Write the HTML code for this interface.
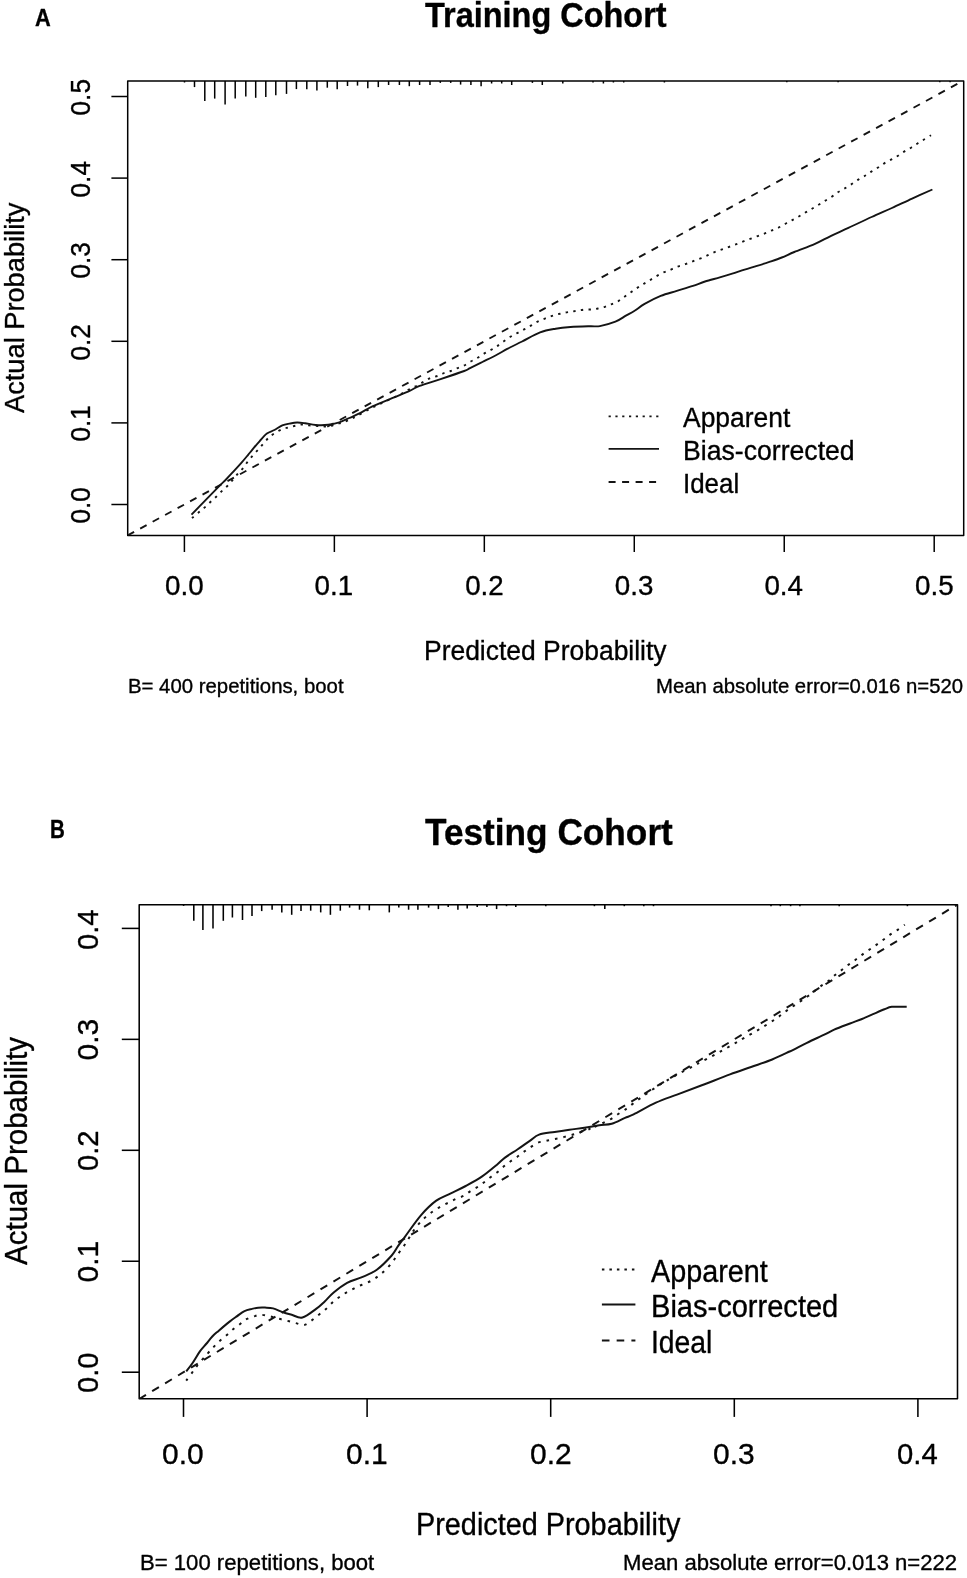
<!DOCTYPE html>
<html><head><meta charset="utf-8"><style>
html,body{margin:0;padding:0;background:#fff;}
body{width:967px;height:1578px;overflow:hidden;}
svg{display:block;will-change:transform;}
text{font-family:"Liberation Sans",sans-serif;fill:#000;stroke:#000;stroke-width:0.35px;stroke-linejoin:round;}
</style></head><body>
<svg width="967" height="1578" viewBox="0 0 967 1578">
<defs></defs>
<rect width="967" height="1578" fill="#fff"/>
<g>
<g stroke="#000" stroke-linejoin="round" stroke-linecap="butt" fill="none">
<g stroke-width="1.50">
<rect x="127.70" y="81.00" width="836.00" height="454.60"/>
<line x1="184.40" y1="535.60" x2="184.40" y2="552.00"/>
<line x1="334.36" y1="535.60" x2="334.36" y2="552.00"/>
<line x1="484.32" y1="535.60" x2="484.32" y2="552.00"/>
<line x1="634.28" y1="535.60" x2="634.28" y2="552.00"/>
<line x1="784.24" y1="535.60" x2="784.24" y2="552.00"/>
<line x1="934.20" y1="535.60" x2="934.20" y2="552.00"/>
<line x1="127.70" y1="504.50" x2="111.40" y2="504.50"/>
<line x1="127.70" y1="422.90" x2="111.40" y2="422.90"/>
<line x1="127.70" y1="341.30" x2="111.40" y2="341.30"/>
<line x1="127.70" y1="259.70" x2="111.40" y2="259.70"/>
<line x1="127.70" y1="178.10" x2="111.40" y2="178.10"/>
<line x1="127.70" y1="96.50" x2="111.40" y2="96.50"/>
<line x1="184.50" y1="81.00" x2="184.50" y2="82.50"/>
<line x1="194.50" y1="81.00" x2="194.50" y2="87.10"/>
<line x1="204.80" y1="81.00" x2="204.80" y2="101.10"/>
<line x1="214.70" y1="81.00" x2="214.70" y2="98.60"/>
<line x1="225.10" y1="81.00" x2="225.10" y2="104.60"/>
<line x1="235.20" y1="81.00" x2="235.20" y2="98.60"/>
<line x1="245.80" y1="81.00" x2="245.80" y2="96.40"/>
<line x1="255.70" y1="81.00" x2="255.70" y2="97.80"/>
<line x1="265.80" y1="81.00" x2="265.80" y2="97.00"/>
<line x1="275.80" y1="81.00" x2="275.80" y2="95.30"/>
<line x1="286.50" y1="81.00" x2="286.50" y2="93.90"/>
<line x1="296.40" y1="81.00" x2="296.40" y2="89.10"/>
<line x1="306.80" y1="81.00" x2="306.80" y2="89.30"/>
<line x1="316.90" y1="81.00" x2="316.90" y2="90.40"/>
<line x1="327.30" y1="81.00" x2="327.30" y2="87.70"/>
<line x1="337.20" y1="81.00" x2="337.20" y2="89.30"/>
<line x1="347.50" y1="81.00" x2="347.50" y2="86.00"/>
<line x1="357.50" y1="81.00" x2="357.50" y2="85.60"/>
<line x1="367.80" y1="81.00" x2="367.80" y2="88.30"/>
<line x1="378.30" y1="81.00" x2="378.30" y2="87.10"/>
<line x1="388.60" y1="81.00" x2="388.60" y2="85.00"/>
<line x1="399.40" y1="81.00" x2="399.40" y2="85.00"/>
<line x1="409.30" y1="81.00" x2="409.30" y2="86.20"/>
<line x1="419.60" y1="81.00" x2="419.60" y2="85.00"/>
<line x1="430.00" y1="81.00" x2="430.00" y2="85.00"/>
<line x1="440.30" y1="81.00" x2="440.30" y2="82.90"/>
<line x1="450.70" y1="81.00" x2="450.70" y2="82.90"/>
<line x1="460.60" y1="81.00" x2="460.60" y2="84.60"/>
<line x1="470.90" y1="81.00" x2="470.90" y2="85.00"/>
<line x1="481.10" y1="81.00" x2="481.10" y2="86.20"/>
<line x1="491.60" y1="81.00" x2="491.60" y2="83.50"/>
<line x1="501.70" y1="81.00" x2="501.70" y2="83.50"/>
<line x1="511.70" y1="81.00" x2="511.70" y2="85.00"/>
<line x1="532.40" y1="81.00" x2="532.40" y2="82.90"/>
<line x1="542.30" y1="81.00" x2="542.30" y2="85.00"/>
<line x1="562.80" y1="81.00" x2="562.80" y2="83.50"/>
<line x1="593.00" y1="81.00" x2="593.00" y2="82.50"/>
<line x1="603.40" y1="81.00" x2="603.40" y2="83.50"/>
<line x1="613.40" y1="81.00" x2="613.40" y2="82.50"/>
<line x1="623.70" y1="81.00" x2="623.70" y2="82.50"/>
<line x1="664.40" y1="81.00" x2="664.40" y2="82.50"/>
<line x1="786.80" y1="81.00" x2="786.80" y2="82.30"/>
<line x1="838.10" y1="81.00" x2="838.10" y2="82.30"/>
<line x1="939.80" y1="81.00" x2="939.80" y2="82.30"/>
<line x1="950.10" y1="81.00" x2="950.10" y2="82.30"/>
</g>
<g stroke-width="1.90" stroke="#141414">
<clipPath id="ca"><rect x="127.70" y="81.00" width="836.00" height="454.60"/></clipPath>
<line x1="127.70" y1="535.35" x2="963.70" y2="80.45" stroke-dasharray="7.3,6.9" stroke-dashoffset="0.00" clip-path="url(#ca)"/>
<path d="M191.50,514.60 C192.75,513.32 194.50,511.52 199.00,506.90 C203.50,502.28 214.00,491.47 218.50,486.90 C223.00,482.33 223.52,482.05 226.00,479.50 C228.48,476.95 230.92,474.28 233.40,471.60 C235.88,468.92 238.42,466.23 240.90,463.40 C243.38,460.57 246.45,456.82 248.30,454.60 C250.15,452.38 250.13,452.32 252.00,450.10 C253.87,447.88 257.02,444.05 259.50,441.30 C261.98,438.55 264.42,435.48 266.90,433.60 C269.38,431.72 271.83,431.37 274.40,430.00 C276.97,428.63 279.78,426.47 282.30,425.40 C284.82,424.33 287.03,424.08 289.50,423.60 C291.97,423.12 294.52,422.57 297.10,422.50 C299.68,422.43 301.88,422.78 305.00,423.20 C308.12,423.62 311.93,424.73 315.80,425.00 C319.67,425.27 324.28,425.25 328.20,424.80 C332.12,424.35 335.78,423.43 339.30,422.30 C342.82,421.17 345.85,419.52 349.30,418.00 C352.75,416.48 356.15,415.13 360.00,413.20 C363.85,411.27 366.62,409.08 372.40,406.40 C378.18,403.72 388.50,399.68 394.70,397.10 C400.90,394.52 405.45,392.77 409.60,390.90 C413.75,389.03 414.43,387.87 419.60,385.90 C424.77,383.93 433.17,381.58 440.60,379.10 C448.03,376.62 459.30,372.82 464.20,371.00 C469.10,369.18 466.97,369.70 470.00,368.20 C473.03,366.70 477.85,364.28 482.40,362.00 C486.95,359.72 493.17,356.68 497.30,354.50 C501.43,352.32 503.07,351.07 507.20,348.90 C511.33,346.73 516.62,344.25 522.10,341.50 C527.58,338.75 534.52,334.53 540.10,332.40 C545.68,330.27 550.53,329.60 555.60,328.70 C560.67,327.80 564.77,327.42 570.50,327.00 C576.23,326.58 585.10,326.35 590.00,326.20 C594.90,326.05 595.67,326.85 599.90,326.10 C604.13,325.35 611.07,323.43 615.40,321.70 C619.73,319.97 622.70,317.52 625.90,315.70 C629.10,313.88 631.48,312.77 634.60,310.80 C637.72,308.83 640.25,306.38 644.60,303.90 C648.95,301.42 655.33,298.07 660.70,295.90 C666.07,293.73 671.43,292.57 676.80,290.90 C682.17,289.23 688.20,287.47 692.90,285.90 C697.60,284.33 700.52,282.92 705.00,281.50 C709.48,280.08 715.27,278.70 719.80,277.40 C724.33,276.10 728.07,275.00 732.20,273.70 C736.33,272.40 740.47,270.90 744.60,269.60 C748.73,268.30 752.87,267.18 757.00,265.90 C761.13,264.62 765.27,263.30 769.40,261.90 C773.53,260.50 777.65,259.15 781.80,257.50 C785.95,255.85 788.77,254.27 794.30,252.00 C799.83,249.73 808.87,246.60 815.00,243.90 C821.13,241.20 825.53,238.47 831.10,235.80 C836.67,233.13 841.65,231.03 848.40,227.90 C855.15,224.77 864.35,220.32 871.60,217.00 C878.85,213.68 885.15,211.07 891.90,208.00 C898.65,204.93 905.35,201.68 912.10,198.60 C918.85,195.52 929.02,191.02 932.40,189.50"/>
<path d="M192.00,518.10 C193.00,517.25 195.98,514.70 198.00,513.00 C200.02,511.30 202.08,509.68 204.10,507.90 C206.12,506.12 208.08,504.17 210.10,502.30 C212.12,500.43 214.25,498.57 216.20,496.70 C218.15,494.83 219.93,492.88 221.80,491.10 C223.67,489.32 225.53,487.93 227.40,486.00 C229.27,484.07 231.15,481.67 233.00,479.50 C234.85,477.33 236.72,475.02 238.50,473.00 C240.28,470.98 242.07,469.43 243.70,467.40 C245.33,465.37 246.68,462.90 248.30,460.80 C249.92,458.70 251.68,456.73 253.40,454.80 C255.12,452.87 256.88,451.13 258.60,449.20 C260.32,447.27 262.00,445.13 263.70,443.20 C265.40,441.27 267.02,439.23 268.80,437.60 C270.58,435.97 272.15,434.82 274.40,433.40 C276.65,431.98 279.95,430.08 282.30,429.10 C284.65,428.12 286.33,428.05 288.50,427.50 C290.67,426.95 293.03,426.30 295.30,425.80 C297.57,425.30 299.83,424.57 302.10,424.50 C304.37,424.43 306.62,425.18 308.90,425.40 C311.18,425.62 313.52,425.65 315.80,425.80 C318.08,425.95 320.43,426.17 322.60,426.30 C324.77,426.43 326.63,426.95 328.80,426.60 C330.97,426.25 333.33,424.88 335.60,424.20 C337.87,423.52 340.12,423.23 342.40,422.50 C344.68,421.77 346.92,420.87 349.30,419.80 C351.68,418.73 353.25,417.93 356.70,416.10 C360.15,414.27 365.62,411.07 370.00,408.80 C374.38,406.53 378.67,404.55 383.00,402.50 C387.33,400.45 392.60,398.13 396.00,396.50 C399.40,394.87 400.92,394.05 403.40,392.70 C405.88,391.35 408.52,389.63 410.90,388.40 C413.28,387.17 415.53,386.43 417.70,385.30 C419.87,384.17 421.73,382.85 423.90,381.60 C426.07,380.35 428.43,378.73 430.70,377.80 C432.97,376.87 435.22,376.82 437.50,376.00 C439.78,375.18 442.22,373.73 444.40,372.90 C446.58,372.07 448.53,371.77 450.60,371.00 C452.67,370.23 454.63,369.17 456.80,368.30 C458.97,367.43 461.33,366.90 463.60,365.80 C465.87,364.70 468.13,363.00 470.40,361.70 C472.67,360.40 475.00,359.30 477.20,358.00 C479.40,356.70 481.38,355.20 483.60,353.90 C485.82,352.60 488.32,351.43 490.50,350.20 C492.68,348.97 494.53,347.95 496.70,346.50 C498.87,345.05 501.13,343.17 503.50,341.50 C505.87,339.83 508.52,337.95 510.90,336.50 C513.28,335.05 515.52,334.03 517.80,332.80 C520.08,331.57 522.43,330.28 524.60,329.10 C526.77,327.92 528.63,326.95 530.80,325.70 C532.97,324.45 535.33,322.75 537.60,321.60 C539.87,320.45 542.12,319.72 544.40,318.80 C546.68,317.88 549.02,316.87 551.30,316.10 C553.58,315.33 555.83,314.78 558.10,314.20 C560.37,313.62 562.73,313.02 564.90,312.60 C567.07,312.18 569.03,312.00 571.10,311.70 C573.17,311.40 575.13,311.15 577.30,310.80 C579.47,310.45 581.78,309.82 584.10,309.60 C586.42,309.38 588.88,309.68 591.20,309.50 C593.52,309.32 595.72,308.95 598.00,308.50 C600.28,308.05 602.72,307.50 604.90,306.80 C607.08,306.10 609.03,305.13 611.10,304.30 C613.17,303.47 615.23,302.95 617.30,301.80 C619.37,300.65 621.43,298.85 623.50,297.40 C625.57,295.95 627.63,294.53 629.70,293.10 C631.77,291.67 633.83,290.20 635.90,288.80 C637.97,287.40 640.03,285.97 642.10,284.70 C644.17,283.43 646.13,282.48 648.30,281.20 C650.47,279.92 652.73,278.38 655.10,277.00 C657.47,275.62 660.12,274.02 662.50,272.90 C664.88,271.78 667.12,271.27 669.40,270.30 C671.68,269.33 673.93,268.00 676.20,267.10 C678.47,266.20 680.73,265.65 683.00,264.90 C685.27,264.15 687.60,263.42 689.80,262.60 C692.00,261.78 693.98,260.85 696.20,260.00 C698.42,259.15 700.82,258.47 703.10,257.50 C705.38,256.53 707.63,255.23 709.90,254.20 C712.17,253.17 714.43,252.18 716.70,251.30 C718.97,250.42 721.22,249.72 723.50,248.90 C725.78,248.08 728.12,247.23 730.40,246.40 C732.68,245.57 734.93,244.77 737.20,243.90 C739.47,243.03 741.73,242.08 744.00,241.20 C746.27,240.32 748.52,239.45 750.80,238.60 C753.08,237.75 755.42,236.93 757.70,236.10 C759.98,235.27 762.23,234.52 764.50,233.60 C766.77,232.68 769.03,231.57 771.30,230.60 C773.57,229.63 775.82,228.90 778.10,227.80 C780.38,226.70 782.72,225.25 785.00,224.00 C787.28,222.75 789.63,221.47 791.80,220.30 C793.97,219.13 795.80,218.27 798.00,217.00 C800.20,215.73 802.87,213.95 805.00,212.70 C807.13,211.45 808.63,210.77 810.80,209.50 C812.97,208.23 815.72,206.50 818.00,205.10 C820.28,203.70 822.20,202.50 824.50,201.10 C826.80,199.70 829.62,198.15 831.80,196.70 C833.98,195.25 835.55,193.72 837.60,192.40 C839.65,191.08 841.82,190.13 844.10,188.80 C846.38,187.47 848.88,185.97 851.30,184.40 C853.72,182.83 856.18,180.92 858.60,179.40 C861.02,177.88 863.63,176.63 865.80,175.30 C867.97,173.97 869.55,172.70 871.60,171.40 C873.65,170.10 875.93,168.88 878.10,167.50 C880.27,166.12 882.30,164.50 884.60,163.10 C886.90,161.70 889.60,160.37 891.90,159.10 C894.20,157.83 896.23,156.83 898.40,155.50 C900.57,154.17 902.73,152.43 904.90,151.10 C907.07,149.77 909.23,148.82 911.40,147.50 C913.57,146.18 915.73,144.57 917.90,143.20 C920.07,141.83 922.22,140.63 924.40,139.30 C926.58,137.97 929.90,135.88 931.00,135.20" stroke-dasharray="2.4,5.3"/>
<line x1="608.60" y1="416.40" x2="659.00" y2="416.40" stroke-dasharray="2.2,4.6"/>
<line x1="608.60" y1="448.85" x2="659.00" y2="448.85"/>
<line x1="608.60" y1="482.00" x2="659.00" y2="482.00" stroke-dasharray="7.0,6.5"/>
</g>
<g stroke-width="1.55">
<rect x="139.20" y="904.80" width="818.30" height="494.00"/>
<line x1="183.50" y1="1398.80" x2="183.50" y2="1416.90"/>
<line x1="367.10" y1="1398.80" x2="367.10" y2="1416.90"/>
<line x1="550.70" y1="1398.80" x2="550.70" y2="1416.90"/>
<line x1="734.30" y1="1398.80" x2="734.30" y2="1416.90"/>
<line x1="917.90" y1="1398.80" x2="917.90" y2="1416.90"/>
<line x1="139.20" y1="1372.20" x2="121.80" y2="1372.20"/>
<line x1="139.20" y1="1261.25" x2="121.80" y2="1261.25"/>
<line x1="139.20" y1="1150.30" x2="121.80" y2="1150.30"/>
<line x1="139.20" y1="1039.35" x2="121.80" y2="1039.35"/>
<line x1="139.20" y1="928.40" x2="121.80" y2="928.40"/>
<line x1="183.60" y1="904.80" x2="183.60" y2="905.90"/>
<line x1="193.80" y1="904.80" x2="193.80" y2="920.80"/>
<line x1="202.90" y1="904.80" x2="202.90" y2="929.90"/>
<line x1="213.00" y1="904.80" x2="213.00" y2="928.60"/>
<line x1="223.30" y1="904.80" x2="223.30" y2="920.80"/>
<line x1="232.40" y1="904.80" x2="232.40" y2="917.50"/>
<line x1="242.50" y1="904.80" x2="242.50" y2="920.00"/>
<line x1="252.00" y1="904.80" x2="252.00" y2="915.90"/>
<line x1="261.70" y1="904.80" x2="261.70" y2="911.10"/>
<line x1="272.10" y1="904.80" x2="272.10" y2="909.70"/>
<line x1="281.80" y1="904.80" x2="281.80" y2="912.40"/>
<line x1="291.70" y1="904.80" x2="291.70" y2="914.80"/>
<line x1="301.00" y1="904.80" x2="301.00" y2="911.10"/>
<line x1="310.70" y1="904.80" x2="310.70" y2="910.70"/>
<line x1="320.70" y1="904.80" x2="320.70" y2="912.40"/>
<line x1="330.40" y1="904.80" x2="330.40" y2="914.80"/>
<line x1="340.30" y1="904.80" x2="340.30" y2="910.70"/>
<line x1="349.60" y1="904.80" x2="349.60" y2="907.60"/>
<line x1="359.50" y1="904.80" x2="359.50" y2="909.70"/>
<line x1="369.30" y1="904.80" x2="369.30" y2="910.30"/>
<line x1="389.30" y1="904.80" x2="389.30" y2="912.40"/>
<line x1="398.80" y1="904.80" x2="398.80" y2="907.60"/>
<line x1="408.60" y1="904.80" x2="408.60" y2="909.70"/>
<line x1="417.90" y1="904.80" x2="417.90" y2="909.70"/>
<line x1="428.60" y1="904.80" x2="428.60" y2="907.60"/>
<line x1="438.40" y1="904.80" x2="438.40" y2="909.10"/>
<line x1="448.20" y1="904.80" x2="448.20" y2="907.00"/>
<line x1="457.90" y1="904.80" x2="457.90" y2="909.70"/>
<line x1="467.20" y1="904.80" x2="467.20" y2="908.60"/>
<line x1="477.20" y1="904.80" x2="477.20" y2="907.00"/>
<line x1="486.90" y1="904.80" x2="486.90" y2="907.00"/>
<line x1="496.60" y1="904.80" x2="496.60" y2="909.10"/>
<line x1="506.50" y1="904.80" x2="506.50" y2="906.20"/>
<line x1="515.80" y1="904.80" x2="515.80" y2="907.00"/>
<line x1="545.80" y1="904.80" x2="545.80" y2="906.20"/>
<line x1="594.40" y1="904.80" x2="594.40" y2="906.20"/>
<line x1="604.80" y1="904.80" x2="604.80" y2="909.10"/>
<line x1="624.30" y1="904.80" x2="624.30" y2="906.20"/>
<line x1="643.80" y1="904.80" x2="643.80" y2="906.20"/>
<line x1="653.50" y1="904.80" x2="653.50" y2="906.20"/>
<line x1="771.00" y1="904.80" x2="771.00" y2="906.20"/>
<line x1="780.30" y1="904.80" x2="780.30" y2="906.20"/>
<line x1="790.60" y1="904.80" x2="790.60" y2="906.20"/>
<line x1="799.90" y1="904.80" x2="799.90" y2="906.20"/>
<line x1="839.20" y1="904.80" x2="839.20" y2="906.20"/>
<line x1="907.40" y1="904.80" x2="907.40" y2="906.20"/>
<line x1="955.80" y1="904.80" x2="955.80" y2="906.60"/>
</g>
<g stroke-width="2.00" stroke="#141414">
<clipPath id="cb"><rect x="139.20" y="904.80" width="818.30" height="494.00"/></clipPath>
<line x1="139.20" y1="1398.97" x2="957.50" y2="904.47" stroke-dasharray="7.9,7.23" stroke-dashoffset="0.00" clip-path="url(#cb)"/>
<path d="M186.20,1371.30 C187.23,1369.95 190.12,1366.52 192.40,1363.20 C194.68,1359.88 197.62,1354.60 199.90,1351.40 C202.18,1348.20 204.03,1346.48 206.10,1344.00 C208.17,1341.52 210.23,1338.68 212.30,1336.50 C214.37,1334.32 215.62,1333.38 218.50,1330.90 C221.38,1328.42 226.50,1324.07 229.60,1321.60 C232.70,1319.13 234.62,1317.85 237.10,1316.10 C239.58,1314.35 242.02,1312.30 244.50,1311.10 C246.98,1309.90 249.72,1309.47 252.00,1308.90 C254.28,1308.33 256.03,1307.92 258.20,1307.70 C260.37,1307.48 262.52,1307.48 265.00,1307.60 C267.48,1307.72 270.10,1307.62 273.10,1308.40 C276.10,1309.18 279.90,1311.23 283.00,1312.30 C286.10,1313.37 288.47,1313.93 291.70,1314.80 C294.93,1315.67 298.33,1318.48 302.40,1317.50 C306.47,1316.52 312.38,1311.58 316.10,1308.90 C319.82,1306.22 321.82,1304.10 324.70,1301.40 C327.58,1298.70 329.67,1295.80 333.40,1292.70 C337.13,1289.60 342.33,1285.38 347.10,1282.80 C351.87,1280.22 357.05,1279.37 362.00,1277.20 C366.95,1275.03 371.85,1273.42 376.80,1269.80 C381.75,1266.18 388.17,1259.43 391.70,1255.50 C395.23,1251.57 395.80,1249.32 398.00,1246.20 C400.20,1243.08 401.05,1241.98 404.90,1236.80 C408.75,1231.62 415.93,1221.08 421.10,1215.10 C426.27,1209.12 430.95,1204.52 435.90,1200.90 C440.85,1197.28 445.83,1195.88 450.80,1193.40 C455.77,1190.92 460.53,1188.78 465.70,1186.00 C470.87,1183.22 476.63,1180.22 481.80,1176.70 C486.97,1173.18 492.83,1168.08 496.70,1164.90 C500.57,1161.72 501.55,1160.17 505.00,1157.60 C508.45,1155.03 513.27,1152.30 517.40,1149.50 C521.53,1146.70 526.18,1143.28 529.80,1140.80 C533.42,1138.32 534.97,1136.08 539.10,1134.60 C543.23,1133.12 549.53,1132.72 554.60,1131.90 C559.67,1131.08 564.53,1130.38 569.50,1129.70 C574.47,1129.02 579.43,1128.53 584.40,1127.80 C589.37,1127.07 594.75,1125.97 599.30,1125.30 C603.85,1124.63 607.42,1125.03 611.70,1123.80 C615.98,1122.57 621.35,1119.47 625.00,1117.90 C628.65,1116.33 628.45,1116.93 633.60,1114.40 C638.75,1111.87 648.67,1106.00 655.90,1102.70 C663.13,1099.40 669.35,1097.50 677.00,1094.60 C684.65,1091.70 692.97,1088.67 701.80,1085.30 C710.63,1081.93 721.78,1077.45 730.00,1074.40 C738.22,1071.35 744.07,1069.48 751.10,1067.00 C758.13,1064.52 765.78,1062.08 772.20,1059.50 C778.62,1056.92 783.82,1054.28 789.60,1051.50 C795.38,1048.72 801.12,1045.60 806.90,1042.80 C812.68,1040.00 819.75,1036.88 824.30,1034.70 C828.85,1032.52 829.92,1031.57 834.20,1029.70 C838.48,1027.83 845.37,1025.28 850.00,1023.50 C854.63,1021.72 858.17,1020.55 862.00,1019.00 C865.83,1017.45 869.27,1015.82 873.00,1014.20 C876.73,1012.58 881.27,1010.53 884.40,1009.30 C887.53,1008.07 888.08,1007.22 891.80,1006.80 C895.52,1006.38 904.22,1006.80 906.70,1006.80"/>
<path d="M186.20,1380.60 C187.13,1379.35 190.05,1375.48 191.80,1373.10 C193.55,1370.72 194.12,1369.50 196.70,1366.30 C199.28,1363.10 204.50,1357.10 207.30,1353.90 C210.10,1350.70 211.43,1349.27 213.50,1347.10 C215.57,1344.93 217.53,1342.87 219.70,1340.90 C221.87,1338.93 224.33,1337.20 226.50,1335.30 C228.67,1333.40 230.52,1331.30 232.70,1329.50 C234.88,1327.70 237.42,1326.17 239.60,1324.50 C241.78,1322.83 243.53,1320.80 245.80,1319.50 C248.07,1318.20 250.83,1317.48 253.20,1316.70 C255.57,1315.92 257.62,1314.95 260.00,1314.80 C262.38,1314.65 265.12,1315.35 267.50,1315.80 C269.88,1316.25 271.93,1316.88 274.30,1317.50 C276.67,1318.12 279.22,1318.87 281.70,1319.50 C284.18,1320.13 286.68,1320.65 289.20,1321.30 C291.72,1321.95 294.28,1322.78 296.80,1323.40 C299.32,1324.02 301.82,1325.50 304.30,1325.00 C306.78,1324.50 309.22,1322.17 311.70,1320.40 C314.18,1318.63 316.82,1316.32 319.20,1314.40 C321.58,1312.48 323.83,1310.85 326.00,1308.90 C328.17,1306.95 330.13,1304.57 332.20,1302.70 C334.27,1300.83 336.33,1299.22 338.40,1297.70 C340.47,1296.18 342.43,1294.90 344.60,1293.60 C346.77,1292.30 349.13,1291.13 351.40,1289.90 C353.67,1288.67 355.82,1287.28 358.20,1286.20 C360.58,1285.12 363.22,1284.48 365.70,1283.40 C368.18,1282.32 370.72,1281.15 373.10,1279.70 C375.48,1278.25 377.82,1276.45 380.00,1274.70 C382.18,1272.95 384.13,1271.30 386.20,1269.20 C388.27,1267.10 390.55,1264.48 392.40,1262.10 C394.25,1259.72 395.55,1257.35 397.30,1254.90 C399.05,1252.45 401.22,1249.78 402.90,1247.40 C404.58,1245.02 405.62,1243.40 407.40,1240.60 C409.18,1237.80 411.32,1233.82 413.60,1230.60 C415.88,1227.38 418.72,1223.88 421.10,1221.30 C423.48,1218.72 425.63,1216.95 427.90,1215.10 C430.17,1213.25 432.33,1211.75 434.70,1210.20 C437.07,1208.65 439.62,1207.15 442.10,1205.80 C444.58,1204.45 447.22,1203.30 449.60,1202.10 C451.98,1200.90 454.02,1199.67 456.40,1198.60 C458.78,1197.53 461.52,1196.98 463.90,1195.70 C466.28,1194.42 468.33,1192.42 470.70,1190.90 C473.07,1189.38 475.72,1188.15 478.10,1186.60 C480.48,1185.05 482.82,1183.25 485.00,1181.60 C487.18,1179.95 489.03,1178.35 491.20,1176.70 C493.37,1175.05 495.83,1173.47 498.00,1171.70 C500.17,1169.93 502.10,1167.83 504.20,1166.10 C506.30,1164.37 508.40,1162.87 510.60,1161.30 C512.80,1159.73 515.23,1158.25 517.40,1156.70 C519.57,1155.15 521.43,1153.57 523.60,1152.00 C525.77,1150.43 528.02,1148.85 530.40,1147.30 C532.78,1145.75 535.42,1143.73 537.90,1142.70 C540.38,1141.67 542.82,1141.67 545.30,1141.10 C547.78,1140.53 550.32,1139.80 552.80,1139.30 C555.28,1138.80 557.72,1138.67 560.20,1138.10 C562.68,1137.53 565.22,1136.58 567.70,1135.90 C570.18,1135.22 572.63,1134.78 575.10,1134.00 C577.57,1133.22 580.12,1132.03 582.50,1131.20 C584.88,1130.37 588.25,1129.37 589.40,1129.00 C590.55,1128.63 588.17,1129.52 589.40,1129.01 C590.63,1128.50 594.32,1127.06 596.80,1125.94 C599.28,1124.82 601.82,1123.54 604.30,1122.31 C606.78,1121.08 609.25,1120.00 611.70,1118.54 C614.15,1117.08 616.52,1115.18 619.00,1113.53 C621.48,1111.88 624.32,1110.24 626.60,1108.63 C628.88,1107.02 630.47,1105.57 632.70,1103.85 C634.93,1102.13 637.62,1100.10 640.00,1098.34 C642.38,1096.58 644.50,1095.05 647.00,1093.31 C649.50,1091.57 651.83,1089.93 655.00,1087.87 C658.17,1085.80 661.83,1083.39 666.00,1080.92 C670.17,1078.45 675.37,1075.58 680.00,1073.06 C684.63,1070.54 690.30,1067.67 693.80,1065.82 C697.30,1063.97 697.97,1063.59 701.00,1061.97 C704.03,1060.36 708.33,1058.10 712.00,1056.13 C715.67,1054.17 719.33,1052.23 723.00,1050.18 C726.67,1048.13 730.33,1045.96 734.00,1043.83 C737.67,1041.70 740.67,1039.88 745.00,1037.38 C749.33,1034.88 754.83,1031.94 760.00,1028.82 C765.17,1025.70 771.33,1021.84 776.00,1018.65 C780.67,1015.46 784.00,1012.53 788.00,1009.70 C792.00,1006.87 796.65,1003.92 800.00,1001.65 C803.35,999.38 805.60,997.86 808.10,996.05 C810.60,994.24 812.83,992.47 815.00,990.78 C817.17,989.09 818.95,987.46 821.10,985.90 C823.25,984.34 825.73,983.08 827.90,981.40 C830.07,979.72 832.03,977.52 834.10,975.80 C836.17,974.08 838.23,972.72 840.30,971.10 C842.37,969.48 844.43,967.63 846.50,966.10 C848.57,964.57 850.63,963.38 852.70,961.90 C854.77,960.42 856.83,958.77 858.90,957.20 C860.97,955.63 862.92,954.05 865.10,952.50 C867.28,950.95 869.82,949.40 872.00,947.90 C874.18,946.40 876.03,945.05 878.20,943.50 C880.37,941.95 882.83,940.20 885.00,938.60 C887.17,937.00 889.03,935.40 891.20,933.90 C893.37,932.40 895.73,931.13 898.00,929.60 C900.27,928.07 903.67,925.52 904.80,924.70" stroke-dasharray="2.6,6.0"/>
<line x1="601.90" y1="1269.40" x2="635.40" y2="1269.40" stroke-dasharray="2.5,5.0"/>
<line x1="601.90" y1="1304.60" x2="635.40" y2="1304.60"/>
<line x1="601.90" y1="1340.40" x2="635.40" y2="1340.40" stroke-dasharray="7.6,7.15"/>
</g>
</g>
<g>
<text x="35.00" y="25.90" font-size="24.27" font-weight="bold" textLength="15.75" lengthAdjust="spacingAndGlyphs">A</text>
<text x="425.00" y="26.60" font-size="34.16" font-weight="bold" textLength="241.59" lengthAdjust="spacingAndGlyphs">Training Cohort</text>
<text x="424.00" y="660.20" font-size="28.20" textLength="242.54" lengthAdjust="spacingAndGlyphs">Predicted Probability</text>
<text x="128.00" y="692.60" font-size="20.78" textLength="215.55" lengthAdjust="spacingAndGlyphs">B= 400 repetitions, boot</text>
<text x="656.00" y="692.70" font-size="20.93" textLength="307.05" lengthAdjust="spacingAndGlyphs">Mean absolute error=0.016 n=520</text>
<text x="683.00" y="427.30" font-size="28.20" textLength="107.31" lengthAdjust="spacingAndGlyphs">Apparent</text>
<text x="683.00" y="459.60" font-size="27.91" textLength="171.67" lengthAdjust="spacingAndGlyphs">Bias-corrected</text>
<text x="683.00" y="492.60" font-size="27.91" textLength="56.22" lengthAdjust="spacingAndGlyphs">Ideal</text>
<text transform="translate(23.80,413.00) rotate(-90)" font-size="28.34" textLength="210.39" lengthAdjust="spacingAndGlyphs">Actual Probability</text>
<text x="165.00" y="594.70" font-size="27.61" textLength="38.59" lengthAdjust="spacingAndGlyphs">0.0</text>
<text x="314.60" y="594.70" font-size="27.61" textLength="38.56" lengthAdjust="spacingAndGlyphs">0.1</text>
<text x="465.20" y="594.70" font-size="27.61" textLength="38.50" lengthAdjust="spacingAndGlyphs">0.2</text>
<text x="614.80" y="594.70" font-size="27.61" textLength="38.59" lengthAdjust="spacingAndGlyphs">0.3</text>
<text x="764.40" y="594.70" font-size="27.61" textLength="38.56" lengthAdjust="spacingAndGlyphs">0.4</text>
<text x="915.00" y="594.70" font-size="27.61" textLength="38.56" lengthAdjust="spacingAndGlyphs">0.5</text>
<text transform="translate(89.60,523.50) rotate(-90)" font-size="27.75" textLength="36.46" lengthAdjust="spacingAndGlyphs">0.0</text>
<text transform="translate(89.60,441.50) rotate(-90)" font-size="27.75" textLength="36.43" lengthAdjust="spacingAndGlyphs">0.1</text>
<text transform="translate(89.60,360.50) rotate(-90)" font-size="27.75" textLength="36.43" lengthAdjust="spacingAndGlyphs">0.2</text>
<text transform="translate(89.60,278.50) rotate(-90)" font-size="27.75" textLength="36.46" lengthAdjust="spacingAndGlyphs">0.3</text>
<text transform="translate(89.60,197.50) rotate(-90)" font-size="27.75" textLength="36.49" lengthAdjust="spacingAndGlyphs">0.4</text>
<text transform="translate(89.60,115.50) rotate(-90)" font-size="27.75" textLength="36.52" lengthAdjust="spacingAndGlyphs">0.5</text>
<text x="50.00" y="837.60" font-size="24.85" font-weight="bold" textLength="14.85" lengthAdjust="spacingAndGlyphs">B</text>
<text x="425.00" y="845.40" font-size="36.05" font-weight="bold" textLength="247.83" lengthAdjust="spacingAndGlyphs">Testing Cohort</text>
<text x="416.00" y="1534.50" font-size="30.67" textLength="264.34" lengthAdjust="spacingAndGlyphs">Predicted Probability</text>
<text x="140.00" y="1569.70" font-size="22.82" textLength="234.25" lengthAdjust="spacingAndGlyphs">B= 100 repetitions, boot</text>
<text x="623.00" y="1569.60" font-size="22.24" textLength="334.12" lengthAdjust="spacingAndGlyphs">Mean absolute error=0.013 n=222</text>
<text x="651.00" y="1281.50" font-size="30.67" textLength="116.70" lengthAdjust="spacingAndGlyphs">Apparent</text>
<text x="651.00" y="1316.60" font-size="30.67" textLength="187.28" lengthAdjust="spacingAndGlyphs">Bias-corrected</text>
<text x="651.00" y="1352.60" font-size="30.81" textLength="61.42" lengthAdjust="spacingAndGlyphs">Ideal</text>
<text transform="translate(26.50,1265.00) rotate(-90)" font-size="30.96" textLength="228.09" lengthAdjust="spacingAndGlyphs">Actual Probability</text>
<text x="162.00" y="1463.70" font-size="30.28" textLength="41.63" lengthAdjust="spacingAndGlyphs">0.0</text>
<text x="346.00" y="1463.70" font-size="30.28" textLength="41.63" lengthAdjust="spacingAndGlyphs">0.1</text>
<text x="530.00" y="1463.70" font-size="30.28" textLength="41.68" lengthAdjust="spacingAndGlyphs">0.2</text>
<text x="713.00" y="1463.70" font-size="30.28" textLength="41.63" lengthAdjust="spacingAndGlyphs">0.3</text>
<text x="897.00" y="1463.70" font-size="30.28" textLength="40.66" lengthAdjust="spacingAndGlyphs">0.4</text>
<text transform="translate(97.80,1393.00) rotate(-90)" font-size="30.14" textLength="40.61" lengthAdjust="spacingAndGlyphs">0.0</text>
<text transform="translate(97.80,1282.50) rotate(-90)" font-size="30.14" textLength="41.68" lengthAdjust="spacingAndGlyphs">0.1</text>
<text transform="translate(97.80,1171.00) rotate(-90)" font-size="30.14" textLength="40.64" lengthAdjust="spacingAndGlyphs">0.2</text>
<text transform="translate(97.80,1060.50) rotate(-90)" font-size="30.14" textLength="41.71" lengthAdjust="spacingAndGlyphs">0.3</text>
<text transform="translate(97.80,950.00) rotate(-90)" font-size="30.14" textLength="40.64" lengthAdjust="spacingAndGlyphs">0.4</text>
</g>
</g>
</svg>
</body></html>
